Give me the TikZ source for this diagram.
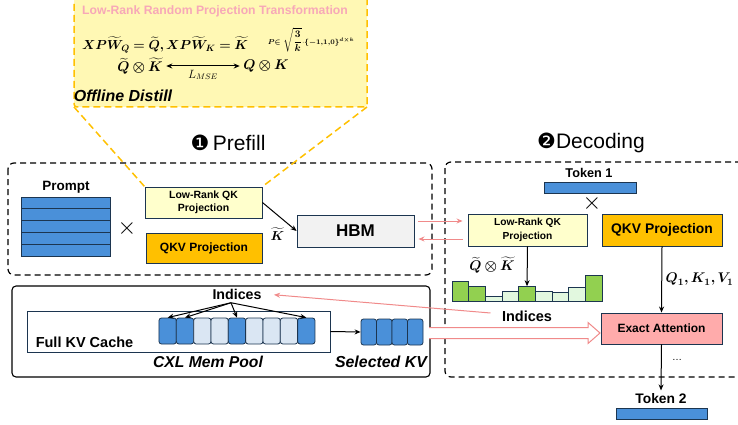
\RequirePackage{fix-cm}
\documentclass[tikz,border=0pt]{standalone}
\usepackage{amsmath,amssymb,bm}
\usepackage{fontspec}
\setmainfont{Liberation Sans}
\newfontfamily\dingfont{DejaVu Sans}
\usetikzlibrary{arrows.meta}

\definecolor{kvblue}{HTML}{4A90D9}
\definecolor{kvlight}{HTML}{DAE6F3}
\definecolor{edgeblue}{HTML}{1C3550}
\definecolor{lrfill}{HTML}{FFFFCC}
\definecolor{qkvfill}{HTML}{FFC000}
\definecolor{hbmfill}{HTML}{F2F2F2}
\definecolor{attnfill}{HTML}{FFABAB}
\definecolor{scoregreen}{HTML}{92D050}
\definecolor{scorelight}{HTML}{E2F8DF}
\definecolor{linkpink}{HTML}{F08A8A}
\definecolor{titlepink}{HTML}{F7A8B8}
\definecolor{distillfill}{HTML}{FFF8B4}
\definecolor{distilledge}{HTML}{FFC000}

\begin{document}
\begin{tikzpicture}[x=1pt,y=-1pt,
  box/.style={draw=edgeblue,line width=0.9pt,inner sep=0pt,align=center},
  blk/.style={draw=edgeblue,line width=0.8pt,rounded corners=2.5pt,fill=kvblue,minimum height=26pt,inner sep=0pt},
  tok/.style={draw=edgeblue,line width=0.8pt,fill=kvblue,inner sep=0pt},
  score/.style={draw=edgeblue,line width=0.8pt,anchor=south,minimum width=16.67pt,inner sep=0pt},
  phase/.style={dash pattern=on 6pt off 4pt,line width=1.2pt,rounded corners=6pt},
  link/.style={-{Stealth[length=6pt,width=5pt]},line width=1pt},
  pinklink/.style={-{Stealth[length=6pt,width=5pt]},linkpink,line width=1pt}]
\clip (0,0) rectangle (738,425);
%% offline distillation panel
\draw [distilledge,fill=distillfill,line width=1.5pt,dash pattern=on 7pt off 4pt,rounded corners=3pt] (74,-10) rectangle (367,107);
\node (rp) at (215,11) [text=titlepink,font=\bfseries\fontsize{12.2}{14}\selectfont] {Low-Rank Random Projection Transformation};
\node (eq) at (165,45) [font=\fontsize{13.1}{16}\selectfont] {$\bm{XP\widetilde{W}_Q=\widetilde{Q},XP\widetilde{W}_K=\widetilde{K}}$};
\node (pdef) at (311,40) [font=\fontsize{10}{12}\selectfont] {$\scriptstyle\bm{P\in}\displaystyle\sqrt{\dfrac{\bm{3}}{\bm{k}}}\scriptstyle\cdot\bm{\{-1,1,0\}^{d\times k}}$};
\node (qk1) at (140,66) [font=\fontsize{14}{17}\selectfont] {$\bm{\widetilde{Q}\otimes\widetilde{K}}$};
\node (qk2) at (266,66) [font=\fontsize{14}{17}\selectfont] {$\bm{Q\otimes K}$};
\draw [{Stealth[length=6pt,width=5pt]}-{Stealth[length=6pt,width=5pt]},line width=1pt] (qk1) -- (qk2) node [midway,below,font=\fontsize{12}{14}\selectfont] {$L_{MSE}$};
\node (od) at (123,96) [font=\bfseries\itshape\fontsize{16}{19}\selectfont] {Offline Distill};
%% prefill
\node (pf) at (228,143) [font=\fontsize{21}{24}\selectfont] {{\dingfont ❶}\,Prefill};
\draw [phase] (8,163) rectangle (432,275);
\node (prompt) at (66,187) [font=\bfseries\fontsize{13.5}{16}\selectfont] {Prompt};
\foreach \i in {0,...,4}
  \node (p\i) at (65.5,202.9+11.8*\i) [tok,minimum width=89pt,minimum height=11.8pt] {};
\node (x1) at (127,228) [font=\fontsize{24}{28}\selectfont] {$\times$};
\node (plr) at (203.5,202.5) [box,fill=lrfill,minimum width=117pt,minimum height=31pt,font=\bfseries\fontsize{10.5}{13.5}\selectfont] {Low-Rank QK\\Projection};
\node (pqkv) at (204,248) [box,fill=qkvfill,minimum width=116pt,minimum height=30pt,font=\bfseries\fontsize{12}{14}\selectfont] {QKV Projection};
\node (hbm) at (355.5,231) [box,fill=hbmfill,minimum width=117pt,minimum height=32pt,font=\bfseries\fontsize{17}{20}\selectfont] {HBM};
\draw [link] (plr.east) -- (hbm.west) node [pos=0.75,below left=0pt,font=\fontsize{13}{15}\selectfont] {$\bm{\widetilde{K}}$};
\draw [distilledge,line width=1.5pt,dash pattern=on 7pt off 4pt] (74,107) -- (plr.north west);
\draw [distilledge,line width=1.5pt,dash pattern=on 7pt off 4pt] (367,107) -- (plr.north east);
%% CXL memory pool
\draw [line width=1.1pt,rounded corners=4pt] (12,286) rectangle (430,377);
\node (fkv) at (178.5,331.5) [draw=edgeblue,line width=0.9pt,minimum width=303pt,minimum height=41pt] {};
\node (fkvl) at (84.5,342) [font=\bfseries\fontsize{14.5}{17}\selectfont] {Full KV Cache};
\foreach \i/\c in {1/kvblue,2/kvblue,3/kvlight,4/kvlight,5/kvblue,6/kvlight,7/kvlight,8/kvlight,9/kvblue}
  \node (k\i) at ({150.33+17.33*\i},331) [blk,fill=\c,minimum width=17.33pt] {};
\node (indt) at (237,294) [font=\bfseries\fontsize{14.2}{17}\selectfont] {Indices};
\foreach \i in {1,2,5,9}
  \draw [link] ([xshift=-6pt]indt.south) -- (k\i.north);
\node (cxl) at (208,362) [font=\bfseries\itshape\fontsize{15.7}{18}\selectfont] {CXL Mem Pool};
\foreach \i in {1,...,4}
  \node (s\i) at ({353.25+15.5*\i},332) [blk,minimum width=15.5pt] {};
\draw [link] (fkv.east) -- (s1.west);
\node (selkv) at (381,362) [font=\bfseries\itshape\fontsize{15.9}{18}\selectfont] {Selected KV};
%% decoding
\node (dc) at (591,143) [font=\fontsize{21}{24}\selectfont] {{\dingfont ❷}Decoding};
\draw [phase] (445,162) rectangle (760,377);
\node (tok1) at (589,173) [font=\bfseries\fontsize{12.7}{15}\selectfont] {Token 1};
\node (t1) at (590,187.5) [tok,minimum width=92pt,minimum height=11pt] {};
\node (x2) at (592,203) [font=\fontsize{24}{28}\selectfont] {$\times$};
\node (dlr) at (527.5,230) [box,fill=lrfill,minimum width=119pt,minimum height=32pt,font=\bfseries\fontsize{10.2}{13.5}\selectfont] {Low-Rank QK\\Projection};
\node (dqkv) at (662,230) [box,fill=qkvfill,minimum width=120pt,minimum height=32pt,font=\bfseries\fontsize{13.9}{16}\selectfont] {QKV Projection};
\node (qkt) at (492,265) [font=\fontsize{14}{17}\selectfont] {$\bm{\widetilde{Q}\otimes\widetilde{K}}$};
% attention scores
\foreach \i/\h/\c in {1/20/scoregreen,2/15/scoregreen,3/5/scorelight,4/10/scorelight,5/15/scoregreen,6/10/scorelight,7/9/scorelight,8/14/scorelight,9/26/scoregreen}
  \node (b\i) at ({443.67+16.67*\i},302) [score,fill=\c,minimum height=\h pt] {};
\draw [link] (dlr.south) -- (b5.north);
\node (indd) at (527,316) [font=\bfseries\fontsize{14.5}{17}\selectfont] {Indices};
\draw [pinklink,shorten >=9pt] ([xshift=-8pt,yshift=3pt]indd.west) -- (indt.east);
\node (attn) at (661.5,328.5) [box,fill=attnfill,minimum width=121pt,minimum height=31pt,font=\bfseries\fontsize{12}{14}\selectfont] {Exact Attention};
\draw [link] (dqkv.south) -- (attn.north) node [midway,right,font=\fontsize{14}{16}\selectfont] {$\bm{Q_1,K_1,V_1}$};
\node (dots) at (677,360) {\dots};
\node (tok2) at (661,399) [font=\bfseries\fontsize{13.8}{16}\selectfont] {Token 2};
\draw [link] (attn.south) -- (tok2.north);
\node (t2) at (661.5,413.5) [tok,minimum width=91pt,minimum height=11pt] {};
%% HBM <-> low-rank projection
\draw [pinklink,shorten <=4pt,shorten >=5pt] ([yshift=10pt]hbm.east) -- ([yshift=10pt]hbm.east -| dlr.west);
\draw [pinklink,shorten <=5pt,shorten >=4pt] ([yshift=-8pt]hbm.east -| dlr.west) -- ([yshift=-8pt]hbm.east);
%% selected KV to attention
\draw [linkpink,line width=1pt,fill=white] (429,327.5) -- (588,327.5) -- (588,322.5) -- (600,333) -- (588,343.5) -- (588,338.5) -- (429,338.5);
\end{tikzpicture}
\end{document}
